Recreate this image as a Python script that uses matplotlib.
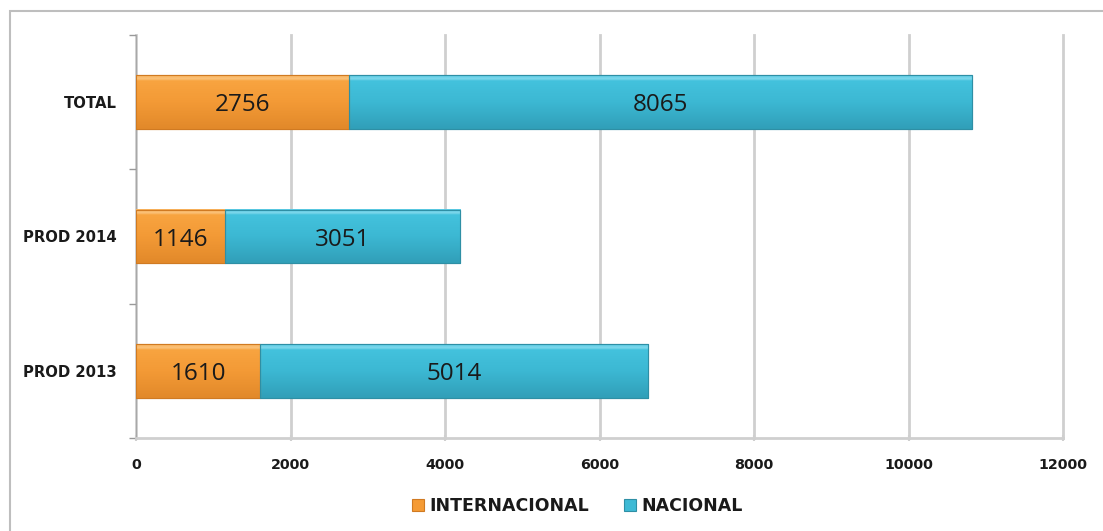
import numpy as np
import matplotlib.pyplot as plt
from matplotlib.patches import Rectangle
from matplotlib.colors import LinearSegmentedColormap

categories = ['PROD 2013', 'PROD 2014', 'TOTAL']
internacional = [1610, 1146, 2756]
nacional = [5014, 3051, 8065]
xticks = [0, 2000, 4000, 6000, 8000, 10000, 12000]

orange = '#F59B35'
blue = '#3EBAD5'
grid_c = '#CFCFCF'

fig = plt.figure(figsize=(11.03, 5.31), dpi=100)
ax = fig.add_axes([136 / 1103, 1 - 438 / 531, (1063 - 136) / 1103, (438 - 35) / 531])

# chart frame (top and left edges visible)
fig.patches.append(Rectangle((10 / 1103, -0.1), 1.2, 0.1 + (1 - 11 / 531),
                             transform=fig.transFigure, fill=False,
                             edgecolor='#BEBEBE', linewidth=1.5))

y = np.arange(len(categories))
h = 0.4
b1 = ax.barh(y, internacional, height=h, color=orange, edgecolor='#D07A22',
             linewidth=0.8, zorder=3)
b2 = ax.barh(y, nacional, left=internacional, height=h, color=blue,
             edgecolor='#2E8FA5', linewidth=0.8, zorder=3)

# vertical shading on each bar, light rim on top, darker toward the bottom
grad_o = LinearSegmentedColormap.from_list(
    'o', [(0, '#E2892A'), (0.5, '#F39A36'), (0.9, '#F8A440'), (0.94, '#FBC27A'), (1, '#F9B35C')])
grad_b = LinearSegmentedColormap.from_list(
    'b', [(0, '#319FB8'), (0.5, '#3CB8D3'), (0.9, '#43C2DD'), (0.94, '#7FD8EC'), (1, '#5ACBE4')])
ramp = np.linspace(0, 1, 64).reshape(-1, 1)
for bars, cmap in ((b1, grad_o), (b2, grad_b)):
    for r in bars:
        x0, y0, w, hh = r.get_x(), r.get_y(), r.get_width(), r.get_height()
        ax.imshow(ramp, cmap=cmap, origin='lower', aspect='auto',
                  extent=(x0, x0 + w, y0, y0 + hh), zorder=3.5,
                  interpolation='bilinear')
        ax.add_patch(Rectangle((x0, y0), w, hh, fill=False,
                               edgecolor=r.get_edgecolor(), linewidth=0.8, zorder=4))

for i in range(len(categories)):
    ax.text(internacional[i] / 2, y[i], str(internacional[i]), ha='center',
            va='center_baseline', fontsize=17.5, family='Open Sans',
            color='#1a1a1a', zorder=5)
    ax.text(internacional[i] + nacional[i] / 2, y[i], str(nacional[i]),
            ha='center', va='center_baseline', fontsize=17.5, family='Open Sans',
            color='#1a1a1a', zorder=5)

ax.set_xlim(0, 12000)
ax.set_ylim(-0.5, 2.5)
ax.set_xticks(xticks)
ax.set_xticklabels([str(t) for t in xticks], fontsize=10.3, fontweight='bold',
                   color='#1a1a1a')
ax.set_yticks(y)
ax.set_yticklabels(categories, fontsize=10.7, fontweight='bold', color='#1a1a1a')
ax.tick_params(axis='y', length=0, pad=14)
ax.tick_params(axis='x', length=5, color=grid_c, width=1.5, direction='inout', pad=12)
ax.set_yticks([-0.5, 0.5, 1.5, 2.5], minor=True)
ax.tick_params(axis='y', which='minor', length=5, color='#999999', width=1)

ax.grid(axis='x', color=grid_c, linewidth=2, zorder=0)
for line in ax.get_xgridlines():
    line.set_clip_on(False)
for s in ('top', 'right'):
    ax.spines[s].set_visible(False)
ax.spines['left'].set_color('#A8A8A8')
ax.spines['bottom'].set_color(grid_c)
ax.spines['bottom'].set_linewidth(2)

fig.legend([b1, b2], ['INTERNACIONAL', 'NACIONAL'], loc='center',
           bbox_to_anchor=(577 / 1103, 1 - 506 / 531), ncol=2, frameon=False,
           prop={'size': 12.5, 'weight': 'bold'}, handlelength=0.7,
           handleheight=0.7, columnspacing=2.0, handletextpad=0.3,
           labelcolor='#1a1a1a')

fig.savefig('out.png', dpi=100)
